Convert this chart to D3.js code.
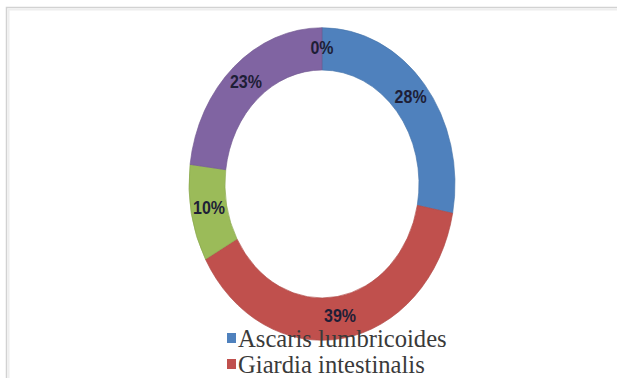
<!DOCTYPE html>
<html>
<head>
	<meta charset="utf-8">
	<script src="https://d3js.org/d3.v7.min.js"></script>
	<style>
		body{ margin: 0; background: #fff; }
		.lbl{
			font-family: "Liberation Sans", Arial, sans-serif;
			font-weight: bold;
			font-size: 16px;
			fill: #1e1e36;
			text-anchor: middle;
			dominant-baseline: middle;
		}
		.leg{
			font-family: "Liberation Serif", "DejaVu Serif", "Times New Roman", serif;
			font-size: 22px;
			fill: #3a3a3a;
		}
	</style>
</head>
<body>
	<script>
		var width = 617, height = 378;

		// slices in drawing order, clockwise from the top
		var categories = ["Ascaris lumbricoides", "Giardia intestinalis",
						  "Entamoeba histolytica", "Hookworm", "Trichuris trichiura"];
		var values = [28, 39, 10, 23, 0];
		var colors = ["#4f81bd", "#c0504d", "#9bbb59", "#8064a2", "#4bacc6"];
		var labels = ["28%", "39%", "10%", "23%", "0%"];

		var cx = 322, cy = 184, stretch = 1.175;
		var outerR = 133, innerR = 97;

		var svg = d3.select("body").append("svg")
					.attr("width", width).attr("height", height);

		// chart area frame
		svg.append("rect")
			.attr("x", 6.5).attr("y", 7.5)
			.attr("width", width + 20).attr("height", height + 20)
			.attr("fill", "none").attr("stroke", "#d2d2d2").attr("stroke-width", 1.5);
		svg.append("rect")
			.attr("x", 8.5).attr("y", 9.5)
			.attr("width", width + 20).attr("height", height + 20)
			.attr("fill", "none").attr("stroke", "#eeeeee").attr("stroke-width", 2);

		var data = categories.map(function(c, i){
			return {name: c, value: values[i], color: colors[i], label: labels[i]};
		});

		var pie = d3.pie().sort(null).value(function(d){ return d.value; });
		var arcs = pie(data);

		var arc = d3.arc().innerRadius(innerR).outerRadius(outerR);
		var labelArc = d3.arc().innerRadius((innerR + outerR) / 2).outerRadius((innerR + outerR) / 2);

		var ring = svg.append("g")
					.attr("transform", "translate(" + cx + "," + cy + ") scale(1," + stretch + ")");

		ring.selectAll("path")
			.data(arcs)
			.enter().append("path")
			.attr("d", arc)
			.attr("fill", function(d){ return d.data.color; })
			.attr("stroke", function(d){ return d3.color(d.data.color).darker(0.3); })
			.attr("stroke-width", 0.6)
			.attr("stroke-opacity", function(d){ return d.data.value > 0 ? 1 : 0; });

		// percentage labels, placed on the stretched ring
		svg.append("g").selectAll("text")
			.data(arcs)
			.enter().append("text")
			.attr("class", "lbl")
			.attr("transform", function(d){
				var c = labelArc.centroid(d);
				return "translate(" + (cx + c[0]) + "," + (cy + c[1] * stretch) + ") scale(1," + stretch + ")";
			})
			.text(function(d){ return d.data.label; });

		// legend (only the first two rows fit in the picture)
		var legend = svg.append("g").selectAll("g")
					.data(data.slice(0, 2))
					.enter().append("g")
					.attr("transform", function(d, i){ return "translate(227," + (347 + i * 26) + ")"; });

		legend.append("rect")
			.attr("x", 0).attr("y", -14)
			.attr("width", 9).attr("height", 10)
			.attr("fill", function(d){ return d.color; });

		legend.append("text")
			.attr("class", "leg")
			.attr("transform", "translate(11,0) scale(1.12," + stretch + ")")
			.text(function(d){ return d.name; });
	</script>
</body>
</html>
